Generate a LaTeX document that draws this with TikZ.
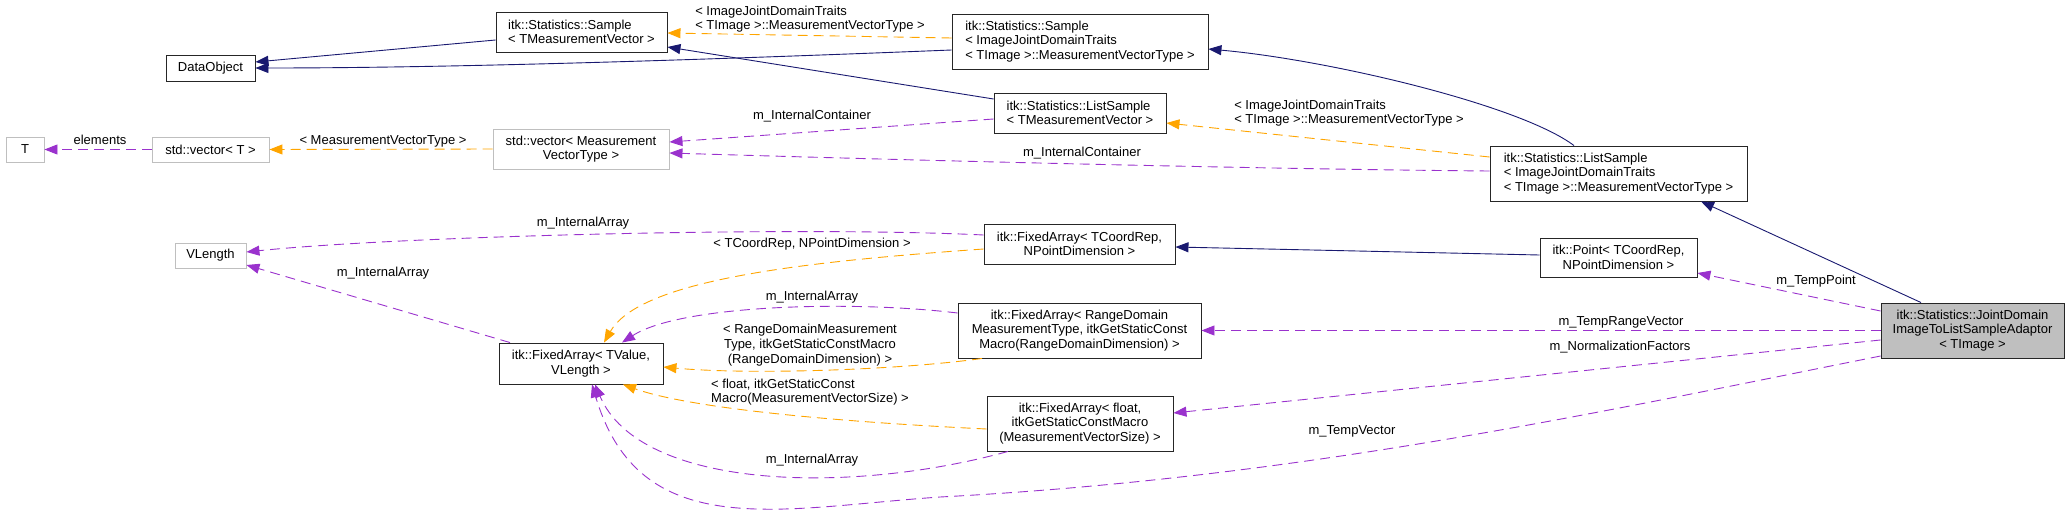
\documentclass[tikz,border=0pt]{standalone}
\usepackage{xcolor}
\usepackage{fontspec}
\setmainfont{Liberation Sans}
\usepackage{tikz}
\usetikzlibrary{arrows.meta}
\definecolor{midnightblue}{HTML}{191970}
\definecolor{tmplorange}{HTML}{FFA500}
\definecolor{memorchid}{HTML}{9A32CD}
\definecolor{grey75}{HTML}{BFBFBF}

\begin{document}
\begin{tikzpicture}[x=1pt,y=-1pt,font=\fontsize{13}{14.7}\selectfont,
		cls/.style={draw=black!85,line width=0.9pt,inner sep=0pt,align=center},
		ext/.style={cls,draw=grey75},
		inh/.style={draw=midnightblue,line width=0.9pt,-{Triangle[length=13pt,width=10pt]}},
		tmpl/.style={draw=tmplorange,line width=0.9pt,dash pattern=on 10pt off 6pt,-{Triangle[length=13pt,width=10pt]}},
		mem/.style={draw=memorchid,line width=0.9pt,dash pattern=on 10pt off 6pt,-{Triangle[length=13pt,width=10pt]}},
		lbl/.style={inner sep=0pt,align=center}]
			
			\useasboundingbox (0,0) rectangle (2069,519);
			
			\node[ext,minimum width=38pt,minimum height=25pt] (T) at (25,149.5) {T};
			\node[ext,minimum width=117pt,minimum height=25pt] (stdvecT) at (210.5,149.5) {std::vector< T >};
			\node[cls,minimum width=89pt,minimum height=26pt] (dataobj) at (210.5,68) {DataObject};
			\node[ext,minimum width=71pt,minimum height=25pt] (vlength) at (210.5,255.5) {VLength};
			\node[cls,align=left,minimum width=171pt,minimum height=40pt] (sampleTMV) at (581.5,32) {itk::Statistics::Sample\\< TMeasurementVector >};
			\node[ext,minimum width=176pt,minimum height=40pt] (stdvecMVT) at (581,149) {std::vector< Measurement\\VectorType >};
			\node[cls,minimum width=164pt,minimum height=41pt] (fixTV) at (581,363.5) {itk::FixedArray< TValue,\\VLength >};
			\node[cls,align=left,minimum width=256pt,minimum height=55pt] (sampleIJDT) at (1080,41.5) {itk::Statistics::Sample\\< ImageJointDomainTraits\\< TImage >::MeasurementVectorType >};
			\node[cls,align=left,minimum width=172pt,minimum height=40pt] (listTMV) at (1080,113) {itk::Statistics::ListSample\\< TMeasurementVector >};
			\node[cls,minimum width=191pt,minimum height=40pt] (fixTCR) at (1079.5,244) {itk::FixedArray< TCoordRep,\\NPointDimension >};
			\node[cls,minimum width=243pt,minimum height=55pt] (fixRD) at (1079.5,330.5) {itk::FixedArray< RangeDomain\\MeasurementType, itkGetStaticConst\\Macro(RangeDomainDimension) >};
			\node[cls,minimum width=186pt,minimum height=55pt] (fixFloat) at (1080,423.5) {itk::FixedArray< float,\\itkGetStaticConstMacro\\(MeasurementVectorSize) >};
			\node[cls,align=left,minimum width=257pt,minimum height=55pt] (listIJDT) at (1618.5,173.5) {itk::Statistics::ListSample\\< ImageJointDomainTraits\\< TImage >::MeasurementVectorType >};
			\node[cls,minimum width=157pt,minimum height=39pt] (point) at (1618.5,257.5) {itk::Point< TCoordRep,\\NPointDimension >};
			\node[cls,fill=grey75,minimum width=183pt,minimum height=55pt] (adaptor) at (1972.5,330.5) {itk::Statistics::JointDomain\\ImageToListSampleAdaptor\\< TImage >};
			
			\draw[inh] ([yshift=-8pt]sampleTMV.west) -- ([yshift=6pt]dataobj.east);
			\draw[inh] ([yshift=-8.5pt]sampleIJDT.west) .. controls (700,60) and (450,68) .. (dataobj.east);
			\draw[inh] ([yshift=14pt]listTMV.west) -- ([yshift=-15pt]sampleTMV.east);
			\draw[inh] ([xshift=-44.5pt]listIJDT.north) .. controls (1520,105) and (1330,60) .. ([yshift=-7.5pt]sampleIJDT.east);
			\draw[inh] ([yshift=2.5pt]point.west) -- ([yshift=-3pt]fixTCR.east);
			\draw[inh] ([xshift=-51.5pt]adaptor.north) -- ([xshift=82.5pt]listIJDT.south);
			
			\draw[tmpl] ([yshift=3.5pt]sampleIJDT.west) -- ([yshift=-1pt]sampleTMV.east) node[lbl,align=left] at (810,19) {< ImageJointDomainTraits\\< TImage >::MeasurementVectorType >};
			\draw[tmpl] ([yshift=16.5pt]listIJDT.west) -- ([yshift=-10pt]listTMV.east) node[lbl,align=left] at (1349,113) {< ImageJointDomainTraits\\< TImage >::MeasurementVectorType >};
			\draw[tmpl] (stdvecMVT.west) -- (stdvecT.east) node[lbl] at (383,141) {< MeasurementVectorType >};
			\draw[tmpl] ([yshift=-5pt]fixTCR.west) .. controls (800,262) and (640,280) .. ([xshift=23pt]fixTV.north) node[lbl] at (812,244) {< TCoordRep, NPointDimension >};
			\draw[tmpl] ([xshift=-97.5pt]fixRD.south) .. controls (900,370) and (750,375) .. ([yshift=-3.5pt]fixTV.east) node[lbl] at (810,345) {< RangeDomainMeasurement\\Type, itkGetStaticConstMacro\\(RangeDomainDimension) >};
			\draw[tmpl] ([yshift=-5.5pt]fixFloat.west) .. controls (800,420) and (680,405) .. ([xshift=42pt]fixTV.south) node[lbl,align=left] at (810,392) {< float, itkGetStaticConst\\Macro(MeasurementVectorSize) >};
			
			\draw[mem] (stdvecT.west) -- (T.east) node[lbl] at (100,140) {elements};
			\draw[mem] ([yshift=-6pt]listTMV.west) -- ([yshift=7pt]stdvecMVT.east) node[lbl] at (812,116) {m\_InternalContainer};
			\draw[mem] ([yshift=2.5pt]listIJDT.west) .. controls (1250,169) and (900,160) .. ([yshift=-4pt]stdvecMVT.east) node[lbl] at (1082,153) {m\_InternalContainer};
			\draw[mem] ([yshift=9pt]fixTCR.west) .. controls (800,226) and (400,236) .. ([yshift=3.5pt]vlength.east) node[lbl] at (583,223) {m\_InternalArray};
			\draw[mem] ([xshift=-71pt]fixTV.north) -- ([yshift=-9.5pt]vlength.east) node[lbl] at (383,273) {m\_InternalArray};
			\draw[mem] ([yshift=17.5pt]fixRD.west) .. controls (850,300) and (680,305) .. ([xshift=41pt]fixTV.north) node[lbl] at (812,297) {m\_InternalArray};
			\draw[mem] ([xshift=-72pt]fixFloat.south) .. controls (850,495) and (640,490) .. ([xshift=14pt]fixTV.south) node[lbl] at (812,460) {m\_InternalArray};
			\draw[mem] ([yshift=-25.5pt]adaptor.west) .. controls (1600,412) and (1300,478) .. (940,497) .. controls (780,508) and (640,545) .. ([xshift=11pt]fixTV.south) node[lbl] at (1352,431) {m\_TempVector};
			\draw[mem] ([yshift=19.5pt]adaptor.west) -- ([yshift=-15.5pt]point.east) node[lbl] at (1816,281) {m\_TempPoint};
			\draw[mem] (adaptor.west) -- (fixRD.east) node[lbl] at (1621,322) {m\_TempRangeVector};
			\draw[mem] ([yshift=-9.5pt]adaptor.west) -- ([yshift=10.5pt]fixFloat.east) node[lbl] at (1620,347) {m\_NormalizationFactors};
			
		\end{tikzpicture}
\end{document}
